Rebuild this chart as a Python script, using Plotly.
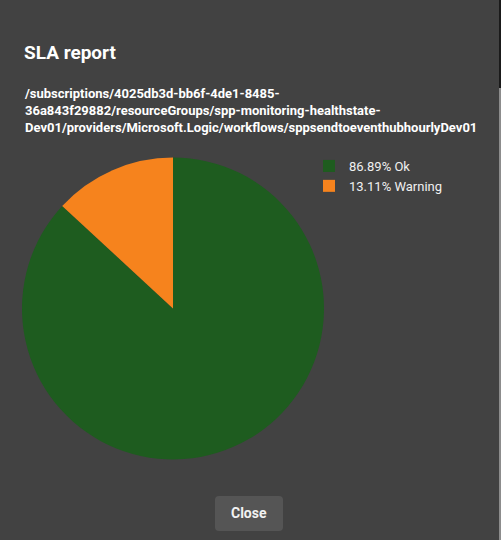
import plotly.graph_objects as go

labels = ["86.89% Ok", "13.11% Warning"]
values = [86.89, 13.11]
colors = ["#1e5c1f", "#f6831d"]

title_text = "SLA report"
path_lines = [
    "/subscriptions/4025db3d-bb6f-4de1-8485-",
    "36a843f29882/resourceGroups/spp-monitoring-healthstate-",
    "Dev01/providers/Microsoft.Logic/workflows/sppsendtoeventhubhourlyDev01",
]

W, H = 501, 540
BG = "#424242"


def rounded_rect(x0, y0, x1, y1, r):
    # pixel coords (top-left origin) -> paper path
    def px(x):
        return x / W

    def py(y):
        return 1 - y / H

    return (
        f"M {px(x0 + r)},{py(y0)} L {px(x1 - r)},{py(y0)} Q {px(x1)},{py(y0)} {px(x1)},{py(y0 + r)} "
        f"L {px(x1)},{py(y1 - r)} Q {px(x1)},{py(y1)} {px(x1 - r)},{py(y1)} "
        f"L {px(x0 + r)},{py(y1)} Q {px(x0)},{py(y1)} {px(x0)},{py(y1 - r)} "
        f"L {px(x0)},{py(y0 + r)} Q {px(x0)},{py(y0)} {px(x0 + r)},{py(y0)} Z"
    )


fig = go.Figure(go.Pie(
    labels=labels,
    values=values,
    marker=dict(colors=colors, line=dict(width=0)),
    sort=False,
    direction="clockwise",
    rotation=0,
    textinfo="none",
    hoverinfo="label",
    domain=dict(x=[22 / W, 324 / W], y=[1 - 460 / H, 1 - 157 / H]),
))

fig.update_layout(
    width=W, height=H,
    margin=dict(l=0, r=0, t=0, b=0),
    paper_bgcolor=BG, plot_bgcolor=BG,
    font=dict(family="Roboto", color="white"),
    showlegend=True,
    legend=dict(
        x=309 / W, y=1 - 151 / H, xanchor="left", yanchor="top",
        bgcolor="rgba(0,0,0,0)", font=dict(size=13, color="#f0f0f0"),
        itemsizing="constant",
    ),
    annotations=[
        dict(text="<b>" + title_text + "</b>", x=22 / W, y=1 - 52 / H, xref="paper", yref="paper",
             xanchor="left", yanchor="middle", showarrow=False, font=dict(size=19, color="white")),
        dict(text="<br>".join("<b>" + s + "</b>" for s in path_lines), x=22 / W, y=1 - 84 / H,
             xref="paper", yref="paper", xanchor="left", yanchor="top", align="left",
             showarrow=False, font=dict(size=13, color="white")),
        dict(text="<b>Close</b>", x=249 / W, y=1 - 513 / H, xref="paper", yref="paper",
             xanchor="center", yanchor="middle", showarrow=False, font=dict(size=14, color="#f2f2f2")),
    ],
    shapes=[
        dict(type="path", xref="paper", yref="paper", path=rounded_rect(215, 496, 283, 531, 4),
             fillcolor="#555555", line=dict(width=0), layer="below"),
        dict(type="rect", xref="paper", yref="paper", x0=499 / W, x1=1,
             y0=1 - 88 / H, y1=1, fillcolor="#1a1a1a", line=dict(width=0)),
        dict(type="rect", xref="paper", yref="paper", x0=499 / W, x1=1,
             y0=0, y1=1 - 88 / H, fillcolor="#8c8c8c", line=dict(width=0)),
    ],
)

fig.write_html(
    "out.html",
    config={"displayModeBar": False},
    post_script="document.body.style.margin='0';document.body.style.overflow='hidden';",
)
